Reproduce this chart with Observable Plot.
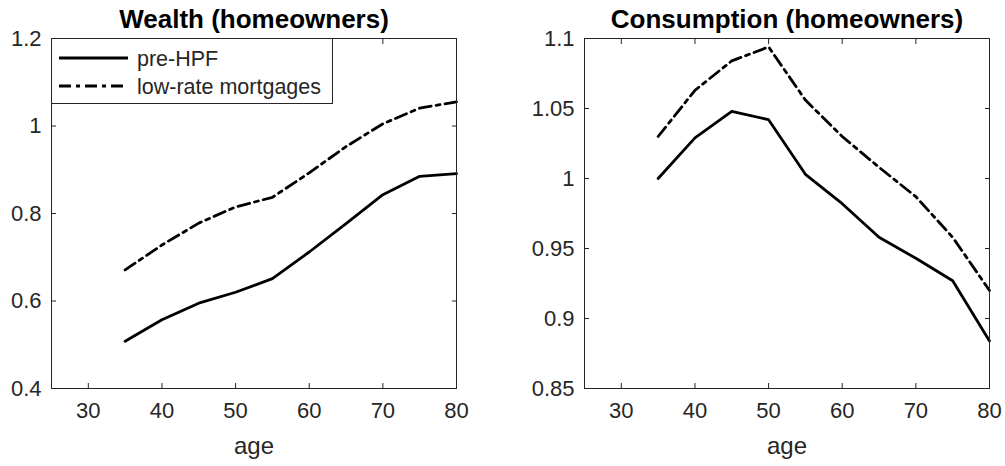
<!DOCTYPE html>
<html>
<head>
<meta charset="utf-8">
<script src="https://cdn.jsdelivr.net/npm/d3@7"></script>
<script src="https://cdn.jsdelivr.net/npm/@observablehq/plot@0.6"></script>
<style>
  html, body { margin: 0; padding: 0; background: #fff; }
  #wrap { position: relative; width: 1005px; height: 466px; font-family: "Liberation Sans", Arial, sans-serif; }
  .panel { position: absolute; top: 0; }
  #legend { position: absolute; left: 51px; top: 38px; width: 282px; height: 66px; border: 1px solid #262626; background: #fff; box-sizing: border-box; }
</style>
</head>
<body>
<div id="wrap">
  <div id="p1" class="panel" style="left:0px"></div>
  <div id="p2" class="panel" style="left:500px"></div>
  <div id="legend"></div>
</div>
<script>
const ages = [35, 40, 45, 50, 55, 60, 65, 70, 75, 80];
const wealthPre = [0.508, 0.557, 0.595, 0.620, 0.651, 0.712, 0.777, 0.843, 0.885, 0.891];
const wealthLow = [0.671, 0.728, 0.778, 0.815, 0.837, 0.893, 0.953, 1.005, 1.041, 1.055];
const consPre = [1.000, 1.029, 1.048, 1.042, 1.003, 0.982, 0.958, 0.943, 0.927, 0.884];
const consLow = [1.030, 1.063, 1.084, 1.094, 1.056, 1.030, 1.008, 0.987, 0.958, 0.920];
const seriesNames = ["pre-HPF", "low-rate mortgages"];
const xTicks = [30, 40, 50, 60, 70, 80];
const wealthTicks = [0.4, 0.6, 0.8, 1.0, 1.2];
const consTicks = [0.85, 0.9, 0.95, 1.0, 1.05, 1.1];
const titles = ["Wealth (homeowners)", "Consumption (homeowners)"];
const xLabel = "age";

const DASH = "12,5,4,5";
const INK = "#262626";

function panel({title, pre, low, yDomain, yTicks, yFmt, width, marginLeft, marginRight}) {
  const rows = ages.flatMap((a, i) => [
    {age: a, value: pre[i], series: seriesNames[0]},
    {age: a, value: low[i], series: seriesNames[1]}
  ]);
  return Plot.plot({
    width, height: 466,
    marginLeft, marginRight, marginTop: 38, marginBottom: 78,
    style: {fontFamily: "'Liberation Sans', Arial, sans-serif", fontSize: "22px", color: INK, background: "transparent"},
    x: {domain: [25, 80]},
    y: {domain: yDomain},
    marks: [
      Plot.line(rows.filter(d => d.series === seriesNames[0]), {x: "age", y: "value", stroke: "#000", strokeWidth: 2.8}),
      Plot.line(rows.filter(d => d.series === seriesNames[1]), {x: "age", y: "value", stroke: "#000", strokeWidth: 2.8, strokeDasharray: DASH}),
      Plot.frame({stroke: INK, strokeWidth: 1}),
      Plot.axisX(xTicks, {tickSize: 0, tickPadding: 14, label: null, fontSize: 22, color: INK}),
      Plot.axisX(xTicks, {tickSize: -5, tickFormat: () => "", label: null, stroke: INK}),
      Plot.axisX(xTicks, {anchor: "top", tickSize: -5, tickFormat: () => "", label: null, stroke: INK}),
      Plot.axisY(yTicks, {tickSize: 0, tickPadding: 10, tickFormat: yFmt, label: null, fontSize: 22, color: INK}),
      Plot.axisY(yTicks, {tickSize: -5, tickFormat: () => "", label: null, stroke: INK}),
      Plot.axisY(yTicks, {anchor: "right", tickSize: -5, tickFormat: () => "", label: null, stroke: INK}),
      Plot.text([title], {frameAnchor: "top", dy: -11, lineAnchor: "bottom", text: d => d, fontWeight: "bold", fontSize: 26, fill: "#000"}),
      Plot.text([xLabel], {frameAnchor: "bottom", dy: 58, lineAnchor: "middle", text: d => d, fontSize: 24, fill: INK})
    ]
  });
}

const fmt = d => String(+d.toFixed(2));
document.getElementById("p1").append(panel({
  title: titles[0], pre: wealthPre, low: wealthLow, yDomain: [0.4, 1.2], yTicks: wealthTicks, yFmt: fmt,
  width: 500, marginLeft: 51, marginRight: 44
}));
document.getElementById("p2").append(panel({
  title: titles[1], pre: consPre, low: consLow, yDomain: [0.85, 1.1], yTicks: consTicks, yFmt: fmt,
  width: 505, marginLeft: 84, marginRight: 16
}));

// Legend
const lg = d3.select("#legend").append("svg").attr("width", 280).attr("height", 64)
  .style("font-family", "'Liberation Sans', Arial, sans-serif");
const styles = [null, DASH];
seriesNames.forEach((name, i) => {
  const y = 19 + i * 28;
  lg.append("line").attr("x1", 7).attr("x2", 76).attr("y1", y).attr("y2", y)
    .attr("stroke", "#000").attr("stroke-width", 2.8).attr("stroke-dasharray", styles[i]);
  lg.append("text").attr("x", 85).attr("y", y).attr("dy", "0.35em")
    .attr("font-size", 21.5).attr("fill", INK).text(name);
});
</script>
</body>
</html>
